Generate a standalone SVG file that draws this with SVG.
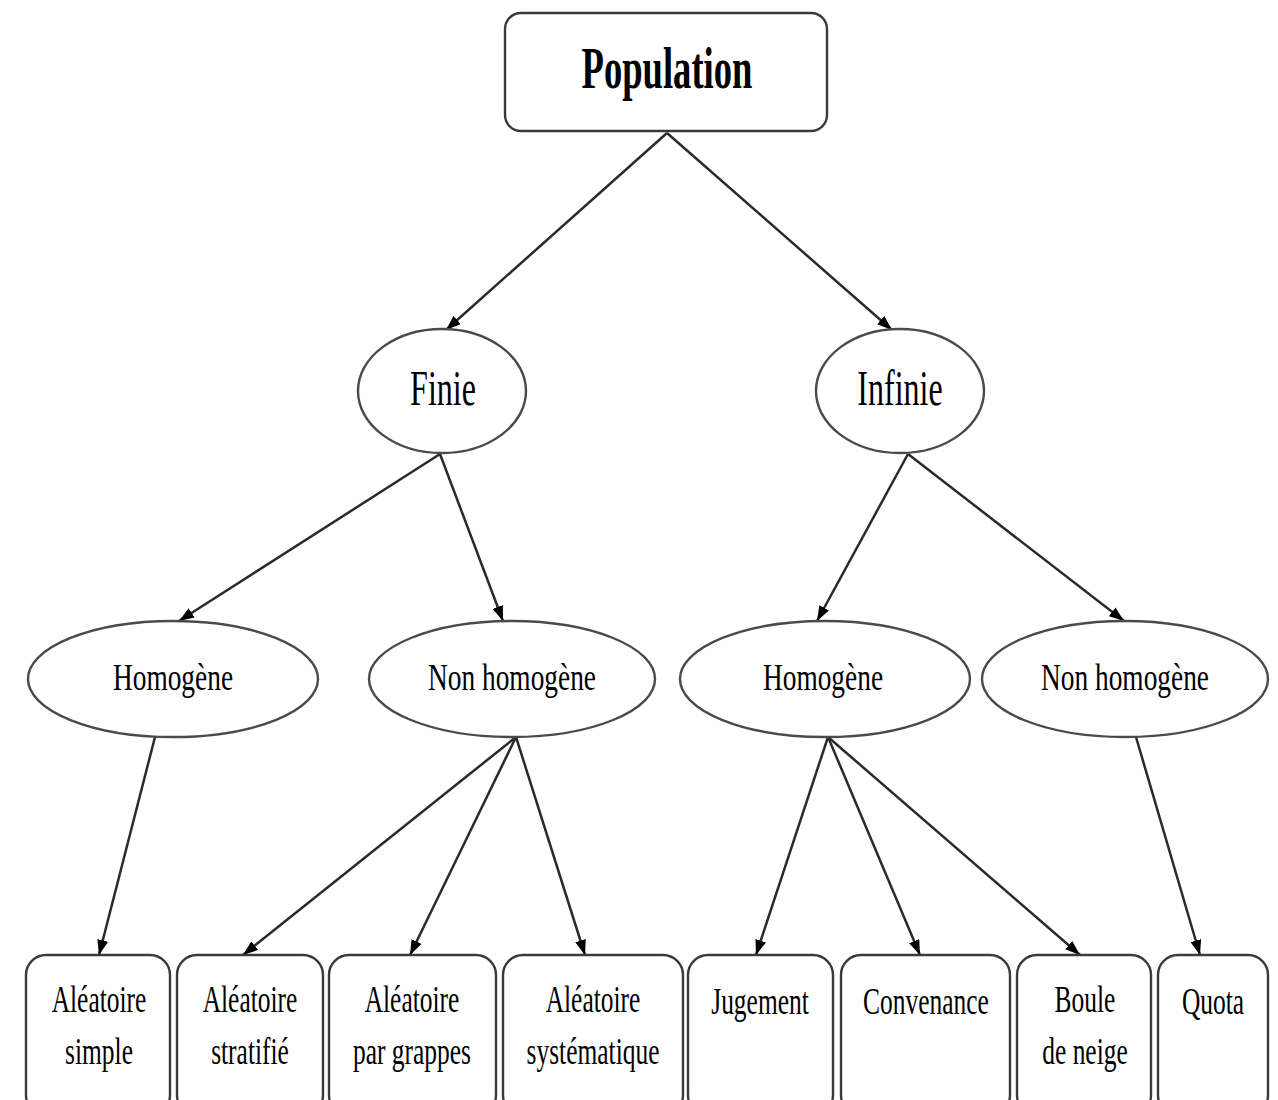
<svg xmlns="http://www.w3.org/2000/svg" width="1278" height="1100" viewBox="0 0 1278 1100">
<defs>
<style>
.box{fill:#fff;stroke:#3a3a3a;stroke-width:2.4}
.ell{fill:#fff;stroke:#4a4a4a;stroke-width:2.4}
.t{font-family:"Liberation Serif","Times New Roman",serif;fill:#000;text-anchor:middle}
.edge{stroke:#2a2a2a;stroke-width:2.5;fill:none;marker-end:url(#ah)}
</style>
<marker id="ah" viewBox="0 0 15 11" refX="15" refY="5.5" markerWidth="15" markerHeight="11" markerUnits="userSpaceOnUse" orient="auto">
<path d="M0,0 L15,5.5 L0,11 Z" fill="#000"/>
</marker>
</defs>
<rect width="1278" height="1100" fill="#fff"/>
<g id="connectors">
<line class="edge" x1="667" y1="133" x2="446" y2="330"/>
<line class="edge" x1="667" y1="133" x2="892" y2="330"/>
<line class="edge" x1="440" y1="454" x2="179" y2="621"/>
<line class="edge" x1="440" y1="454" x2="503" y2="621"/>
<line class="edge" x1="908" y1="454" x2="817" y2="621"/>
<line class="edge" x1="908" y1="454" x2="1124" y2="621"/>
<line class="edge" x1="155" y1="737" x2="99" y2="955"/>
<line class="edge" x1="516" y1="737" x2="243" y2="955"/>
<line class="edge" x1="516" y1="737" x2="410" y2="955"/>
<line class="edge" x1="516" y1="737" x2="585" y2="955"/>
<line class="edge" x1="828" y1="737" x2="756" y2="955"/>
<line class="edge" x1="828" y1="737" x2="920" y2="955"/>
<line class="edge" x1="828" y1="737" x2="1080" y2="955"/>
<line class="edge" x1="1136" y1="737" x2="1200" y2="955"/>
</g>
<g id="population">
<rect class="box" x="505" y="13" width="322" height="118" rx="16"/>
<text class="t" font-size="60" font-weight="bold" transform="translate(667,88) scale(0.61,1)">Population</text>
</g>
<g id="finie">
<ellipse class="ell" cx="442" cy="391" rx="84" ry="62"/>
<text class="t" font-size="50" transform="translate(443,405) scale(0.64,1)">Finie</text>
</g>
<g id="infinie">
<ellipse class="ell" cx="900" cy="391" rx="84" ry="62"/>
<text class="t" font-size="50" transform="translate(900,405) scale(0.64,1)">Infinie</text>
</g>
<g id="homogene-finie">
<ellipse class="ell" cx="173" cy="679" rx="145" ry="58"/>
<text class="t" font-size="38" transform="translate(173,690) scale(0.72,1)">Homogène</text>
</g>
<g id="nonhomogene-finie">
<ellipse class="ell" cx="512" cy="679" rx="143" ry="58"/>
<text class="t" font-size="38" transform="translate(512,690) scale(0.72,1)">Non homogène</text>
</g>
<g id="homogene-infinie">
<ellipse class="ell" cx="825" cy="679" rx="145" ry="58"/>
<text class="t" font-size="38" transform="translate(823,690) scale(0.72,1)">Homogène</text>
</g>
<g id="nonhomogene-infinie">
<ellipse class="ell" cx="1125" cy="679" rx="143" ry="58"/>
<text class="t" font-size="38" transform="translate(1125,690) scale(0.72,1)">Non homogène</text>
</g>
<g id="aleatoire-simple">
<rect class="box" x="26" y="955" width="144" height="160" rx="20"/>
<text class="t" font-size="38" transform="translate(99,1012) scale(0.67,1)">Aléatoire</text>
<text class="t" font-size="38" transform="translate(99,1064) scale(0.67,1)">simple</text>
</g>
<g id="aleatoire-stratifie">
<rect class="box" x="177" y="955" width="146" height="160" rx="20"/>
<text class="t" font-size="38" transform="translate(250,1012) scale(0.67,1)">Aléatoire</text>
<text class="t" font-size="38" transform="translate(250,1064) scale(0.67,1)">stratifié</text>
</g>
<g id="aleatoire-grappes">
<rect class="box" x="329" y="955" width="167" height="160" rx="20"/>
<text class="t" font-size="38" transform="translate(412,1012) scale(0.67,1)">Aléatoire</text>
<text class="t" font-size="38" transform="translate(412,1064) scale(0.67,1)">par grappes</text>
</g>
<g id="aleatoire-systematique">
<rect class="box" x="503" y="955" width="180" height="160" rx="20"/>
<text class="t" font-size="38" transform="translate(593,1012) scale(0.67,1)">Aléatoire</text>
<text class="t" font-size="38" transform="translate(593,1064) scale(0.67,1)">systématique</text>
</g>
<g id="jugement">
<rect class="box" x="688" y="955" width="145" height="160" rx="20"/>
<text class="t" font-size="38" transform="translate(760,1014) scale(0.67,1)">Jugement</text>
</g>
<g id="convenance">
<rect class="box" x="841" y="955" width="169" height="160" rx="20"/>
<text class="t" font-size="38" transform="translate(926,1014) scale(0.67,1)">Convenance</text>
</g>
<g id="boule-de-neige">
<rect class="box" x="1017" y="955" width="134" height="160" rx="20"/>
<text class="t" font-size="38" transform="translate(1085,1012) scale(0.67,1)">Boule</text>
<text class="t" font-size="38" transform="translate(1085,1064) scale(0.67,1)">de neige</text>
</g>
<g id="quota">
<rect class="box" x="1158" y="955" width="110" height="160" rx="20"/>
<text class="t" font-size="38" transform="translate(1213,1014) scale(0.67,1)">Quota</text>
</g>
</svg>
